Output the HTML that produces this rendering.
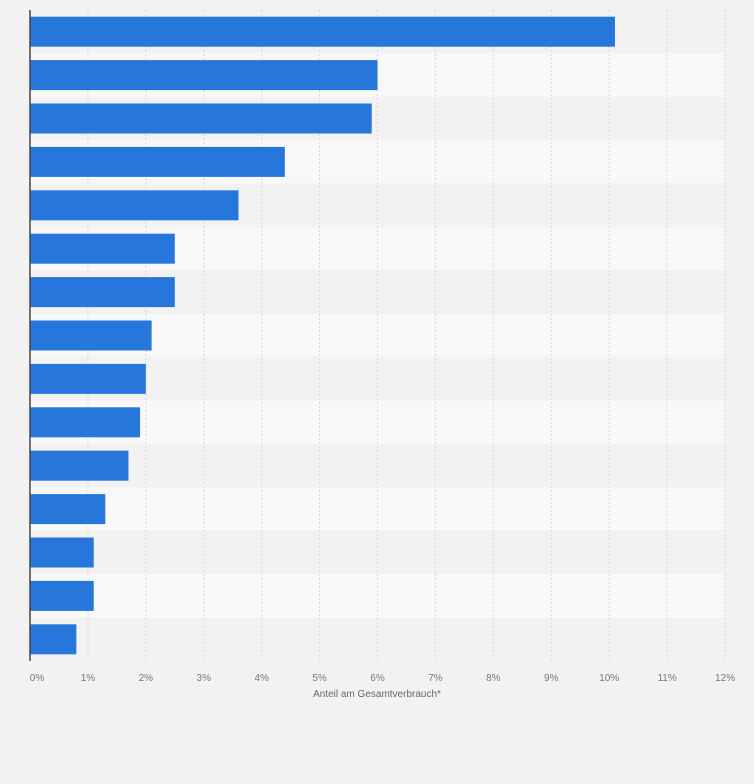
<!DOCTYPE html>
<html><head><meta charset="utf-8"><style>
body{margin:0;background:#f2f2f2;font-family:"Liberation Sans",sans-serif}
</style></head><body>
<svg id="c" width="754" height="779" xmlns="http://www.w3.org/2000/svg"></svg>
<script>
const categories=["c1","c2","c3","c4","c5","c6","c7","c8","c9","c10","c11","c12","c13","c14","c15"];
const values=[10.1,6.0,5.9,4.4,3.6,2.5,2.5,2.1,2.0,1.9,1.7,1.3,1.1,1.1,0.8];
const ticks=[0,1,2,3,4,5,6,7,8,9,10,11,12];
const tickLabels=["0%","1%","2%","3%","4%","5%","6%","7%","8%","9%","10%","11%","12%"];
const svg=document.getElementById('c');
const NS='http://www.w3.org/2000/svg';
const L=30,R=725,T=10,B=661,maxV=12;
const x=v=>L+(v/maxV)*(R-L);
const band=(B-T)/categories.length;
const y=i=>T+i*band;
function mk(t,a){const e=document.createElementNS(NS,t);for(const k in a)e.setAttribute(k,a[k]);svg.appendChild(e);return e;}
categories.forEach((c,i)=>{
  const r=mk('rect',{x:L,y:y(i),width:R-L,height:band,fill:i%2?'#f8f8f8':'#f2f2f2'});
  
  
});
ticks.forEach((t,i)=>{
  if(t>0){const g=mk('line',{x1:x(t),x2:x(t),y1:T,y2:B,stroke:'#d8d8d8','stroke-dasharray':'2,2'});
  
  }
  const tx=mk('text',{x:x(t)+(t===0?7:0),y:681,'text-anchor':'middle','font-size':'10',fill:'#777'});
  tx.textContent=tickLabels[i];
  
  
});
values.forEach((v,i)=>{
  const r=mk('rect',{x:L,y:y(i)+band/2-15,width:x(v)-L,height:30,fill:'#2776dc'});
  
  
});
const ax=mk('line',{x1:L,x2:L,y1:T,y2:B,stroke:'#444','stroke-width':1.5});


const tt=mk('text',{x:377,y:697,'text-anchor':'middle','font-size':'10',fill:'#666'});
tt.textContent='Anteil am Gesamtverbrauch*';


</script>
</body></html>
